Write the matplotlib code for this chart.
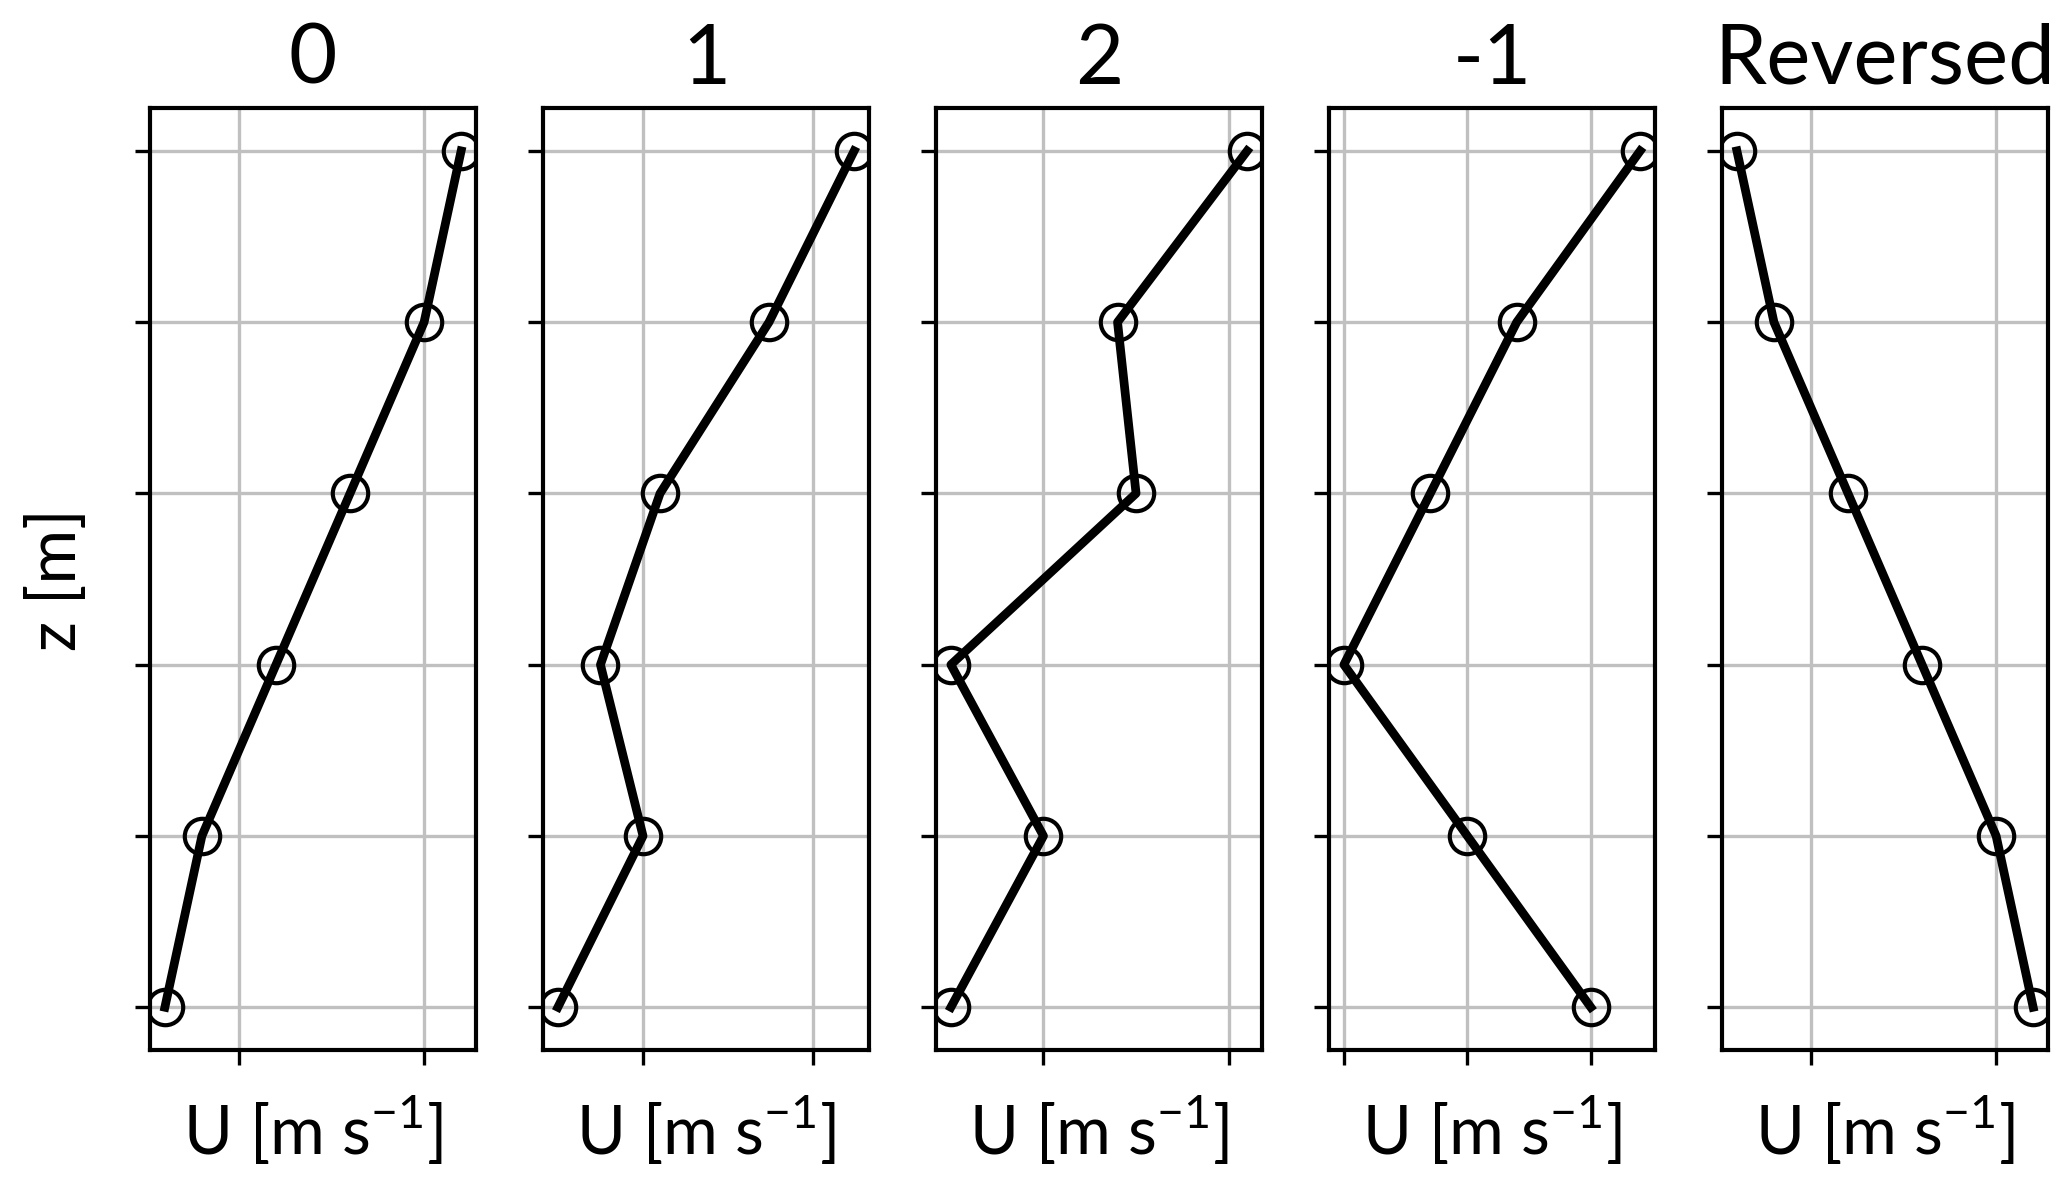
import matplotlib
matplotlib.use('Agg')
import matplotlib.pyplot as plt

# heights (equal spacing, labels hidden in the original)
z = [10, 20, 30, 40, 50, 60]

titles = ['0', '1', '2', '-1', 'Reversed']
u_0 = [3, 4, 6, 8, 10, 11]
u_1 = [2.5, 5.0, 3.75, 5.5, 8.7, 11.2]
u_2 = [2.5, 5.0, 2.5, 7.5, 7.0, 10.5]
u_m1 = [10, 5, 0, 3.5, 7, 12]
u_rev = [11, 10, 8, 6, 4, 3]
profiles = [u_0, u_1, u_2, u_m1, u_rev]

plt.rcParams['font.family'] = ['Lato', 'DejaVu Sans']

fig, axes = plt.subplots(1, 5, figsize=(6.89, 3.953), dpi=300, sharey=True)
fig.subplots_adjust(left=0.0726, right=0.9908, top=0.9081, bottom=0.1138, wspace=0.206)

for ax, title, u in zip(axes, titles, profiles):
    ax.plot(u, z, '-o', color='k', lw=2.1, ms=8.5, mfc='none', mew=1.0)
    ax.set_title(title, fontsize=20)
    ax.grid(True, color='#c0c0c0', lw=0.8)
    lo = min(u) - 0.05 * (max(u) - min(u))
    hi = max(u) + 0.05 * (max(u) - min(u))
    ax.set_xticks([t for t in [0, 5, 10] if lo <= t <= hi])
    ax.set_xticklabels([])
    ax.set_yticks(z)
    ax.set_yticklabels([])
    ax.set_xlabel('U [m s$^{\\mathregular{-1}}$]', fontsize=16, labelpad=3)
    for s in ax.spines.values():
        s.set_linewidth(1.0)

axes[0].set_ylabel('z [m]', fontsize=16, labelpad=8)

plt.savefig('out.png', dpi=300)
